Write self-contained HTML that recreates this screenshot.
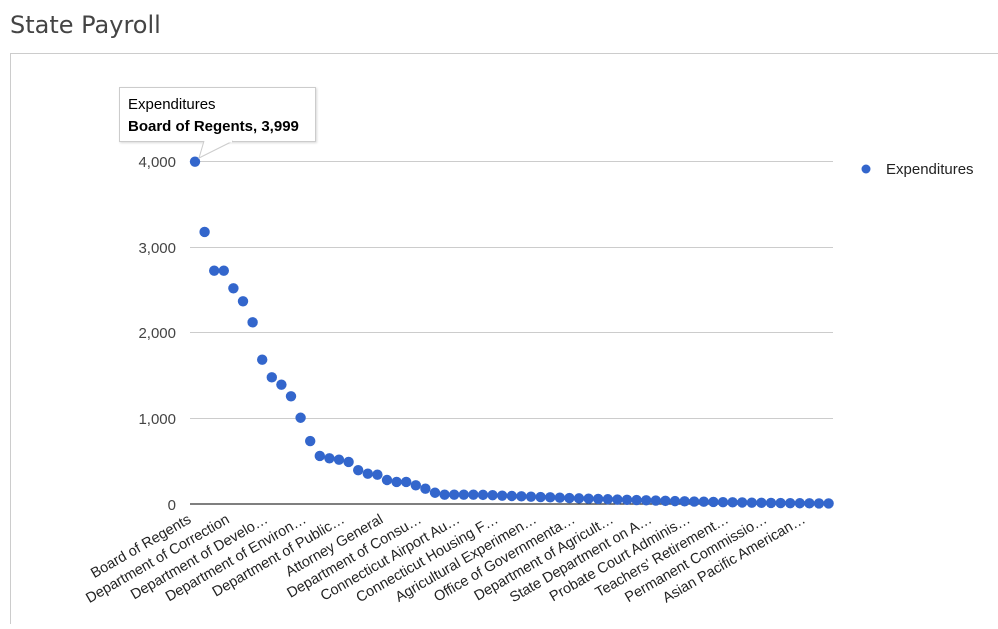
<!DOCTYPE html>
<html><head><meta charset="utf-8"><style>
body{margin:0;background:#fff;width:998px;height:624px;overflow:hidden;font-family:"Liberation Sans",Arial,sans-serif}
</style></head><body>
<svg id="s" width="998" height="624" xmlns="http://www.w3.org/2000/svg" font-family="Liberation Sans, Arial, sans-serif">
<text x="10" y="33" font-size="24" fill="#444" font-family="DejaVu Sans, sans-serif">State Payroll</text>
<rect x="10.5" y="53.5" width="995" height="580" fill="none" stroke="#ccc"/>
<g stroke="#ccc" stroke-width="1">
<line x1="190" x2="833" y1="161.5" y2="161.5"/>
<line x1="190" x2="833" y1="247.5" y2="247.5"/>
<line x1="190" x2="833" y1="332.5" y2="332.5"/>
<line x1="190" x2="833" y1="418.5" y2="418.5"/>
</g>
<line x1="190" x2="833" y1="504" y2="504" stroke="#333" stroke-width="1.3"/>
<g font-size="15" fill="#444" text-anchor="end">
<text x="176" y="167">4,000</text>
<text x="176" y="253">3,000</text>
<text x="176" y="338">2,000</text>
<text x="176" y="424">1,000</text>
<text x="176" y="510">0</text>
</g>
<g id="pts" fill="#3366cc"></g>
<g id="lbl" font-size="14.5" fill="#222" text-anchor="end"></g>
<circle cx="866" cy="169" r="4.5" fill="#3366cc"/>
<text x="886" y="174" font-size="15" fill="#222">Expenditures</text>
<g>
<rect x="119.5" y="87.5" width="196" height="54" fill="#fff" stroke="#ccc" style="filter:drop-shadow(1px 1px 1px rgba(0,0,0,0.15))"/>
<path d="M204,141 L199,158 L233,141" fill="#fff" stroke="#ccc"/>
<line x1="205" x2="232" y1="141.5" y2="141.5" stroke="#fff" stroke-width="2"/>
<text x="128" y="109" font-size="15" fill="#000">Expenditures</text>
<text x="128" y="131" font-size="15" fill="#000" font-weight="bold">Board of Regents, 3,999</text>
</g>
</svg>
<script>
var v=[3999,3177,2724,2724,2518,2366,2120,1683,1477,1391,1255,1004,732,557,530,514,487,391,350,338,276,253,253,214,174,127,104,104,104,104];
var n=67;
for(var i=30;i<n;i++){var t=(i-30)/36;v.push(Math.round(100*Math.pow(1-t,1.6)+2));}
var g=document.getElementById('pts'),ns='http://www.w3.org/2000/svg';
for(var i=0;i<n;i++){var c=document.createElementNS(ns,'circle');c.setAttribute('cx',195+i*9.6);c.setAttribute('cy',503.6-v[i]*0.0855);c.setAttribute('r',5.2);g.appendChild(c);}
var L=["Board of Regents","Department of Correction","Department of Develo…","Department of Environ…","Department of Public…","Attorney General","Department of Consu…","Connecticut Airport Au…","Connecticut Housing F…","Agricultural Experimen…","Office of Governmenta…","Department of Agricult…","State Department on A…","Probate Court Adminis…","Teachers' Retirement…","Permanent Commissio…","Asian Pacific American…"];
var lg=document.getElementById('lbl');
for(var k=0;k<L.length;k++){var x=192+k*4*9.6,y=522;var t=document.createElementNS(ns,'text');t.setAttribute('x',x);t.setAttribute('y',y);t.setAttribute('transform','rotate(-30 '+x+' '+y+')');t.textContent=L[k];lg.appendChild(t);}
</script>
</body></html>
